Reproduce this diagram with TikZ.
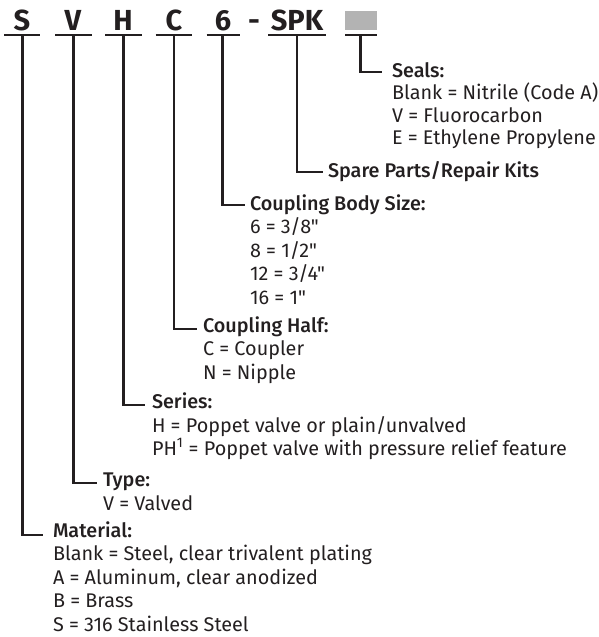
\documentclass[tikz,border=0pt]{standalone}
\usepackage{fontspec}
\setmainfont{Fira Sans}[Ligatures=TeXOff, BoldFont={Fira Sans Medium}]
\newfontfamily\codefont{Fira Sans}[Ligatures=TeXOff]
\definecolor{ink}{HTML}{231F20}
\definecolor{boxgray}{HTML}{B3B3B3}
\tikzset{
  every node/.style={inner sep=0pt, outer sep=0pt, text=ink},
  code/.style={anchor=base, font=\codefont\fontsize{29}{29}\selectfont\bfseries},
  head/.style={anchor=base west, font=\fontsize{19.8}{21}\selectfont\bfseries},
  val/.style={anchor=base west, font=\fontsize{19.8}{21}\selectfont},
  ul/.style={draw=ink, line width=2.8pt},
  lead/.style={draw=ink, line width=2.6pt, line join=miter}
}
\begin{document}
\begin{tikzpicture}[x=1pt,y=-1pt]
\useasboundingbox (0,0) rectangle (599,637);
% code letters
\node[code] (cS) at (22,30) {S};
\node[code] (cV) at (73,30) {V};
\node[code] (cH) at (123,30) {H};
\node[code] (cC) at (174,30) {C};
\node[code] (c6) at (223,30) {6};
\node[code] (cDash) at (254,30) {-};
\node[code] (cSPK) at (297,30) {SPK};
\node[fill=boxgray, minimum width=32pt, minimum height=19pt, anchor=north west] (cBox) at (345,11) {};
% underlines
\draw[ul] (4,35) -- (40,35);
\draw[ul] (55,35) -- (91.5,35);
\draw[ul] (105,35) -- (141.5,35);
\draw[ul] (155.5,35) -- (192,35);
\draw[ul] (206.5,35) -- (239.5,35);
\draw[ul] (268,35) -- (326,35);
\draw[ul] (345,35) -- (377,35);
\coordinate (uS) at (22.5,35);
\coordinate (uV) at (73.3,35);
\coordinate (uH) at (123.3,35);
\coordinate (uC) at (174,35);
\coordinate (u6) at (222.3,35);
\coordinate (uSPK) at (296.8,35);
\coordinate (uBox) at (360.5,35);
% Seals
\node[head] (hSeal) at (392,77) {Seals:};
\node[val] (vSeal1) at (392,99.5) {Blank = Nitrile (Code A)};
\node[val] (vSeal2) at (392,122) {V = Fluorocarbon};
\node[val] (vSeal3) at (392,144.5) {E = Ethylene Propylene};
% Spare parts
\node[head] (hSPK) at (328,177) {Spare Parts/Repair Kits};
% Coupling body size
\node[head] (hSize) at (250,210) {Coupling Body Size:};
\node[val] (vSize1) at (250,233.5) {6 = 3/8"};
\node[val] (vSize2) at (250,257) {8 = 1/2"};
\node[val] (vSize3) at (250,280.5) {12 = 3/4"};
\node[val] (vSize4) at (250,304) {16 = 1"};
% Coupling half
\node[head] (hHalf) at (203,332) {Coupling Half:};
\node[val] (vHalf1) at (203,355.5) {C = Coupler};
\node[val] (vHalf2) at (203,379) {N = Nipple};
% Series
\node[head] (hSer) at (152,408.5) {Series:};
\node[val] (vSer1) at (152,432) {H = Poppet valve or plain/unvalved};
\node[val] (vSer2) at (152,455.5) {PH\textsuperscript{1} = Poppet valve with pressure relief feature};
% Type
\node[head] (hType) at (103,486.5) {Type:};
\node[val] (vType1) at (103,510) {V = Valved};
% Material
\node[head] (hMat) at (53,537) {Material:};
\node[val] (vMat1) at (53,560.5) {Blank = Steel, clear trivalent plating};
\node[val] (vMat2) at (53,584) {A = Aluminum, clear anodized};
\node[val] (vMat3) at (53,607.5) {B = Brass};
\node[val] (vMat4) at (53,631) {S = 316 Stainless Steel};
% leaders
\draw[lead] (uBox) |- ([xshift=-10pt,yshift=5pt]hSeal.base west);
\draw[lead] (uSPK) |- ([xshift=-5pt,yshift=5pt]hSPK.base west);
\draw[lead] (u6) |- ([xshift=-5pt,yshift=5pt]hSize.base west);
\draw[lead] (uC) |- ([xshift=-6pt,yshift=3pt]hHalf.base west);
\draw[lead] (uH) |- ([xshift=-7pt,yshift=3.5pt]hSer.base west);
\draw[lead] (uV) |- ([xshift=-6pt,yshift=3.5pt]hType.base west);
\draw[lead] (uS) |- ([xshift=-10pt,yshift=2pt]hMat.base west);
\end{tikzpicture}
\end{document}
